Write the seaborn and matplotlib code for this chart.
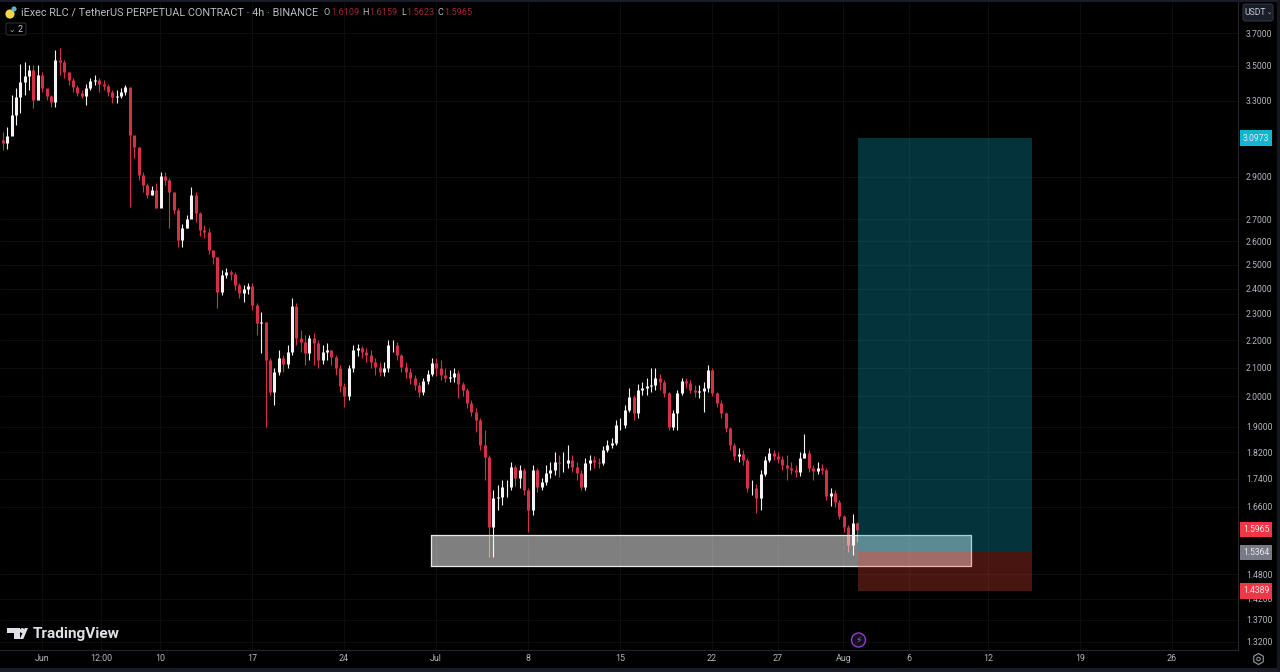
import numpy as np
import pandas as pd
import matplotlib
matplotlib.use("Agg")
import matplotlib.pyplot as plt
import matplotlib.transforms as mtrans
from matplotlib.patches import Circle, Polygon, Rectangle, FancyBboxPatch, RegularPolygon
from matplotlib.ticker import NullLocator
import seaborn as sns

closes = [3.087,3.071,3.108,3.220,3.320,3.405,3.440,3.475,3.303,3.445,
          3.370,3.326,3.292,3.534,3.522,3.463,3.416,3.376,3.342,3.326,
          3.370,3.410,3.416,3.393,3.382,3.348,3.320,3.326,3.348,3.376,
          3.113,3.051,2.910,2.860,2.812,2.836,2.751,2.904,2.885,2.827,
          2.742,2.606,2.660,2.700,2.812,2.729,2.651,2.642,2.563,2.533,
          2.387,2.456,2.469,2.460,2.415,2.383,2.399,2.411,2.335,2.265,
          2.268,2.128,2.015,2.085,2.135,2.114,2.157,2.331,2.208,2.194,
          2.153,2.208,2.190,2.128,2.157,2.164,2.139,2.099,2.036,2.002,
          2.099,2.164,2.171,2.157,2.146,2.121,2.103,2.085,2.099,2.182,
          2.182,2.146,2.103,2.085,2.064,2.040,2.015,2.054,2.078,2.117,
          2.099,2.075,2.064,2.067,2.082,2.043,2.022,1.978,1.949,1.922,
          1.842,1.806,1.604,1.685,1.688,1.717,1.717,1.776,1.743,1.767,
          1.708,1.651,1.767,1.717,1.731,1.758,1.767,1.791,1.788,1.788,
          1.797,1.776,1.758,1.717,1.788,1.797,1.791,1.788,1.827,1.842,
          1.849,1.906,1.906,1.955,1.998,1.945,2.022,2.029,2.036,2.040,
          2.064,2.050,2.012,1.900,1.945,2.012,2.054,2.047,2.022,2.015,
          2.019,2.029,2.092,2.012,1.978,1.945,1.896,1.842,1.809,1.815,
          1.797,1.714,1.714,1.685,1.755,1.797,1.818,1.809,1.800,1.782,
          1.773,1.767,1.761,1.803,1.818,1.773,1.764,1.773,1.767,1.691,
          1.699,1.673,1.635,1.604,1.555,1.615,1.5965]
highs = [3.139,3.129,3.155,3.331,3.370,3.510,3.522,3.504,3.504,3.504,
         3.463,3.359,3.331,3.594,3.606,3.534,3.463,3.428,3.387,3.359,
         3.393,3.428,3.445,3.428,3.416,3.393,3.359,3.359,3.370,3.387,
         3.359,3.077,3.051,2.924,2.870,2.855,2.870,2.924,2.924,2.895,
         2.827,2.751,2.678,2.719,2.850,2.827,2.733,2.673,2.660,2.563,
         2.533,2.477,2.486,2.477,2.469,2.423,2.415,2.423,2.423,2.343,
         2.307,2.268,2.135,2.099,2.164,2.146,2.182,2.363,2.343,2.238,
         2.219,2.219,2.227,2.201,2.182,2.190,2.164,2.146,2.110,2.047,
         2.110,2.182,2.186,2.179,2.171,2.164,2.135,2.121,2.121,2.201,
         2.201,2.194,2.150,2.121,2.099,2.075,2.050,2.064,2.092,2.135,
         2.135,2.128,2.099,2.092,2.099,2.092,2.050,2.029,1.988,1.962,
         1.929,1.890,1.812,1.708,1.722,1.737,1.737,1.791,1.782,1.782,
         1.773,1.714,1.782,1.773,1.743,1.782,1.791,1.821,1.812,1.821,
         1.842,1.812,1.791,1.767,1.803,1.812,1.809,1.803,1.839,1.858,
         1.864,1.922,1.929,1.971,2.029,2.005,2.043,2.050,2.064,2.099,
         2.099,2.078,2.057,2.015,1.955,2.022,2.064,2.064,2.057,2.040,
         2.040,2.050,2.110,2.099,2.015,1.988,1.949,1.900,1.849,1.833,
         1.827,1.803,1.737,1.725,1.767,1.809,1.833,1.827,1.821,1.809,
         1.812,1.791,1.782,1.821,1.878,1.827,1.782,1.791,1.785,1.773,
         1.714,1.708,1.679,1.637,1.610,1.640,1.6159]
lows = [3.035,3.035,3.040,3.150,3.166,3.231,3.331,3.359,3.259,3.331,
        3.348,3.303,3.264,3.264,3.445,3.428,3.387,3.348,3.326,3.314,
        3.275,3.359,3.387,3.348,3.359,3.326,3.286,3.286,3.314,3.331,
        2.756,2.994,2.885,2.827,2.798,2.812,2.751,2.836,2.860,2.660,
        2.724,2.576,2.576,2.660,2.705,2.687,2.624,2.615,2.546,2.503,
        2.323,2.375,2.444,2.436,2.395,2.363,2.347,2.379,2.315,2.219,
        2.153,1.900,2.005,1.971,2.075,2.085,2.099,2.146,2.182,2.157,
        2.110,2.128,2.110,2.099,2.114,2.128,2.110,2.075,2.015,1.965,
        1.988,2.085,2.142,2.135,2.121,2.099,2.075,2.071,2.071,2.085,
        2.157,2.128,2.085,2.064,2.043,2.022,1.998,2.005,2.043,2.071,
        2.071,2.057,2.050,2.050,2.050,1.995,2.002,1.962,1.935,1.884,
        1.827,1.737,1.525,1.525,1.651,1.665,1.688,1.708,1.720,1.714,
        1.694,1.589,1.637,1.702,1.708,1.722,1.743,1.752,1.746,1.761,
        1.773,1.761,1.737,1.708,1.708,1.767,1.773,1.773,1.782,1.821,
        1.833,1.842,1.890,1.896,1.949,1.922,1.929,2.005,2.005,2.015,
        2.022,2.022,1.998,1.890,1.890,1.890,2.005,2.029,2.012,1.998,
        1.995,1.949,2.015,2.002,1.965,1.929,1.884,1.827,1.797,1.791,
        1.782,1.702,1.694,1.643,1.651,1.749,1.791,1.797,1.788,1.767,
        1.737,1.755,1.746,1.749,1.803,1.761,1.737,1.755,1.755,1.679,
        1.662,1.659,1.624,1.591,1.538,1.530,1.5623]
first_open = 3.10
first_candle = "2024-05-28 17:00"

price_ticks = [3.70, 3.50, 3.30, 2.90, 2.70, 2.60, 2.50, 2.40, 2.30, 2.20, 2.10,
               2.00, 1.90, 1.82, 1.74, 1.66, 1.48, 1.42, 1.37, 1.32]
date_ticks = ["2024-06-01 00:00", "2024-06-05 12:00", "2024-06-10 00:00", "2024-06-17 00:00", "2024-06-24 00:00",
              "2024-07-01 00:00", "2024-07-08 00:00", "2024-07-15 00:00", "2024-07-22 00:00", "2024-07-27 00:00",
              "2024-08-01 00:00", "2024-08-06 00:00", "2024-08-12 00:00", "2024-08-19 00:00", "2024-08-26 00:00"]
date_labels = ["Jun", "12:00", "10", "17", "24", "Jul", "8", "15", "22", "27",
               "Aug", "6", "12", "19", "26"]

position_start, position_end = "2024-08-02 03:00", "2024-08-15 08:40"
target_price, entry_price, stop_price = 3.0973, 1.5364, 1.4389
zone_start, zone_end = "2024-06-30 15:20", "2024-08-10 17:30"
zone_top, zone_bottom = 1.583, 1.5005
last_price = 1.5965

UP, DOWN = "#f4f4f4", "#d62f49"
W, H = 1280, 672

sns.set_theme(style="dark", rc={"axes.facecolor": "black", "figure.facecolor": "black"})
plt.rcParams["font.family"] = ["Roboto", "DejaVu Sans"]

times = pd.date_range(first_candle, periods=len(closes), freq="8h")
opens = [first_open] + closes[:-1]
candles = pd.DataFrame({"t": times, "o": opens, "h": highs, "l": lows, "c": closes})
candles["id"] = np.arange(len(candles))
candles["dir"] = np.where(candles.c >= candles.o, "up", "down")
wicks = candles.melt(id_vars=["id", "t", "dir"], value_vars=["h", "l"], value_name="price")
bodies = candles.melt(id_vars=["id", "t", "dir"], value_vars=["o", "c"], value_name="price")

fig = plt.figure(figsize=(W / 100, H / 100), dpi=100, facecolor="black")
ax = fig.add_axes([0, 1 - 650 / H, 1238 / W, 648 / H])
palette = {"up": UP, "down": DOWN}
sns.lineplot(data=wicks, x="t", y="price", units="id", hue="dir", estimator=None, palette=palette,
             linewidth=0.8, legend=False, ax=ax, solid_capstyle="butt", zorder=3)
sns.lineplot(data=bodies, x="t", y="price", units="id", hue="dir", estimator=None, palette=palette,
             linewidth=2.2, legend=False, ax=ax, solid_capstyle="butt", zorder=3)

ax.set_yscale("log")
ax.set_ylim(1.3021, 3.8996)
ax.set_xlim(pd.Timestamp("2024-06-01") - pd.Timedelta(days=41.7 / 13.14),
            pd.Timestamp("2024-06-01") + pd.Timedelta(days=(1238 - 41.7) / 13.14))
ax.set_xlabel("")
ax.set_ylabel("")

# price zone, then the long / short position boxes on top of it
zx = pd.to_datetime([zone_start, zone_end])
ax.fill_between(zx, zone_bottom, zone_top, color="white", alpha=0.5, lw=0, zorder=4)
ax.plot([zx[0], zx[1], zx[1], zx[0], zx[0]], [zone_bottom, zone_bottom, zone_top, zone_top, zone_bottom],
        color="#e8e8e8", lw=0.9, zorder=4.1)
px_ = pd.to_datetime([position_start, position_end])
ax.fill_between(px_, entry_price, target_price, color=(13 / 255, 165 / 255, 194 / 255), alpha=0.31, lw=0, zorder=5)
ax.fill_between(px_, stop_price, entry_price, color=(239 / 255, 68 / 255, 52 / 255), alpha=0.31, lw=0, zorder=5)

ax.yaxis.tick_right()
ax.set_yticks(price_ticks)
ax.set_yticklabels([f"{p:.4f}" for p in price_ticks])
ax.yaxis.set_minor_locator(NullLocator())
ax.set_xticks(pd.to_datetime(date_ticks))
ax.set_xticklabels(date_labels)
ax.xaxis.set_minor_locator(NullLocator())
ax.tick_params(axis="y", length=0, pad=5.8, labelsize=6.2, labelcolor="#b4b7bf")
ax.tick_params(axis="x", length=0, pad=3.2, labelsize=6.4, labelcolor="#b4b7bf")
ax.grid(True, color="#0c0d0f", lw=0.8)
ax.set_axisbelow(True)
sns.despine(ax=ax, left=True, top=True, right=False, bottom=False)
for s in ("right", "bottom"):
    ax.spines[s].set_color("#22252e")
    ax.spines[s].set_linewidth(0.8)

# coloured price labels on the scale
trans = mtrans.blended_transform_factory(ax.transAxes, ax.transData)
tags = [(target_price, "#12b5d0"), (last_price, "#f23645"), (entry_price, "#787b86"), (stop_price, "#f23645")]
for value, col in tags:
    ax.text(1256 / 1238, value, f"{value:.4f}", transform=trans, ha="center", va="center",
            fontsize=6.2, color="#e8e8e8", clip_on=False, zorder=10,
            bbox=dict(boxstyle="square,pad=0.36", fc=col, ec="none"))

# window furniture, in pixel coordinates of the picture
px = mtrans.Affine2D().scale(1, -1).translate(0, H)
fig.add_artist(Rectangle((0, 668), W, 4, transform=px, fc="#1a1c2a", ec="none"))
fig.add_artist(Rectangle((0, 0), W, 1.5, transform=px, fc="#1a1c2a", ec="none"))
fig.add_artist(Rectangle((1277, 0), 3, H, transform=px, fc="#15171f", ec="none"))

fig.add_artist(Circle((10, 14), 4.6, transform=px, fc="#f2d44e", ec="none"))
fig.add_artist(Circle((14, 9), 2.6, transform=px, fc="#5fb4c4", ec="none"))
fig.text(21 / W, 1 - 12.5 / H, "iExec RLC / TetherUS PERPETUAL CONTRACT · 4h · BINANCE",
         color="#b8bbc3", fontsize=7.8, va="center", ha="left")
for xp, s, c in [(323.5, "O", "#b8bbc3"), (331, "1.6109", "#9a2a38"), (362, "H", "#b8bbc3"), (369.5, "1.6159", "#9a2a38"),
                 (401, "L", "#b8bbc3"), (406, "1.5623", "#9a2a38"), (438, "C", "#b8bbc3"), (444, "1.5965", "#9a2a38")]:
    fig.text(xp / W, 1 - 12.5 / H, s, color=c, fontsize=6.6, va="center", ha="left")

fig.add_artist(FancyBboxPatch((6, 23), 20, 12, boxstyle="round,pad=0,rounding_size=2", transform=px,
                              fc="black", ec="#2a2e39", lw=0.8))
fig.text(15 / W, 1 - 29.5 / H, "⌄", color="#b8bbc3", fontsize=5.5, va="center", ha="right", family="DejaVu Sans")
fig.text(18 / W, 1 - 29.5 / H, "2", color="#c8cad0", fontsize=6.4, va="center", ha="left")

fig.add_artist(FancyBboxPatch((1243, 4), 30, 17, boxstyle="round,pad=0,rounding_size=2.5", transform=px,
                              fc="#1a1e2a", ec="#30343f", lw=0.8))
fig.text(1255 / W, 1 - 12.5 / H, "USDT", color="#c8cad0", fontsize=6.2, va="center", ha="center")
fig.text(1269 / W, 1 - 12.5 / H, "⌄", color="#c8cad0", fontsize=4.5, va="center", ha="center", family="DejaVu Sans")

# TradingView mark
logo = "#dfe1e6"
fig.add_artist(Polygon([(7, 628), (19.5, 628), (19.5, 639), (13.5, 639), (13.5, 633), (7, 633)], transform=px, fc=logo, ec="none"))
fig.add_artist(Circle((22.3, 630.6), 2.5, transform=px, fc=logo, ec="none"))
fig.add_artist(Polygon([(24.8, 628), (28, 628), (23.3, 639), (19.8, 639)], transform=px, fc=logo, ec="none"))
fig.text(33 / W, 1 - 634 / H, "TradingView", color=logo, fontsize=11.1, fontweight="bold", va="center", ha="left")

# lightning marker and settings glyph
fig.add_artist(Circle((858.5, 640), 7, transform=px, fc="#15101f", ec="#8f3fc4", lw=1))
fig.text(858.5 / W, 1 - 640 / H, "⚡", color="#a05fd8", fontsize=6.5, va="center", ha="center", family="DejaVu Sans")
fig.add_artist(RegularPolygon((1258.5, 659), 6, radius=5.5, transform=px, fc="none", ec="#9a9da6", lw=0.8))
fig.add_artist(Circle((1258.5, 659), 1.8, transform=px, fc="none", ec="#9a9da6", lw=0.7))

fig.savefig("out.png", dpi=100, facecolor="black")
